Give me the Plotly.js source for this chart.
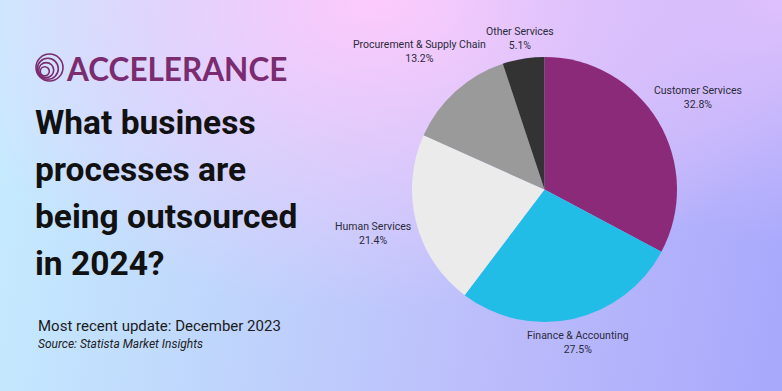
<!DOCTYPE html>
<html>
<head>
<meta charset="utf-8">
<script src="https://cdn.plot.ly/plotly-3.0.1.min.js"></script>
<style>
html,body{margin:0;padding:0;width:782px;height:391px;overflow:hidden;}
body{
  background:
    radial-gradient(ellipse 42% 62% at 100% 0%, rgba(222,192,252,1) 0%, rgba(222,192,252,0) 100%),
    radial-gradient(ellipse 58% 80% at 48% 0%, rgba(253,202,252,1) 0%, rgba(253,202,252,0.55) 45%, rgba(253,202,252,0) 100%),
    linear-gradient(100deg, #c6edff 0%, #bfd6fc 32%, #bcbcfb 65%, #a8a8fc 100%);
}
#chart{width:782px;height:391px;}
</style>
</head>
<body>
<div id="chart"></div>
<script>
// ---- data ----
const categories = ["Customer Services", "Finance & Accounting", "Human Services", "Procurement & Supply Chain", "Other Services"];
const shares = [32.8, 27.5, 21.4, 13.2, 5.1];
const sliceColors = ["#8c2a7a", "#22bde6", "#ebebeb", "#9a9a9a", "#333333"];
const titleLines = ["What business", "processes are", "being outsourced", "in 2024?"];
const brandName = "ACCELERANCE";
const updateNote = "Most recent update: December 2023";
const sourceNote = "Source: Statista Market Insights";

const W = 782, H = 391;
const dom = {x: [412/W, 677/W], y: [1 - 322/H, 1 - 57/H]};

const trace = {
  type: "pie",
  labels: categories,
  values: shares,
  sort: false,
  direction: "clockwise",
  rotation: 0,
  marker: {colors: sliceColors, line: {width: 0}},
  textinfo: "none",
  hoverinfo: "label+percent",
  showlegend: false,
  domain: dom
};

// label placement computed from the slice angles
const total = shares.reduce((a, b) => a + b, 0);
const cx = (dom.x[0] + dom.x[1]) / 2 * W;
const cy = (1 - (dom.y[0] + dom.y[1]) / 2) * H;
const R = Math.min((dom.x[1] - dom.x[0]) * W, (dom.y[1] - dom.y[0]) * H) / 2;
const ctx = document.createElement("canvas").getContext("2d");
ctx.font = "11px Roboto";
const annotations = [];
let cum = 0;
categories.forEach((c, i) => {
  const frac = shares[i] / total;
  const mid = (cum + frac / 2) * 2 * Math.PI;
  cum += frac;
  const pct = (frac * 100).toFixed(1) + "%";
  const hw = Math.max(ctx.measureText(c).width, ctx.measureText(pct).width) / 2;
  const hh = 14;
  const s = Math.sin(mid), co = Math.cos(mid);
  const d = R + 6 + Math.sqrt((hw * s) ** 2 + (hh * co) ** 2);
  annotations.push({
    xref: "paper", yref: "paper",
    x: (cx + d * s) / W, y: 1 - (cy - d * co) / H,
    xanchor: "center", yanchor: "middle",
    text: c + "<br>" + pct, showarrow: false, align: "center",
    font: {family: "Roboto", size: 10.5, color: "#2b2b3b"}
  });
});

// title lines
const lineTop = 122.5, lineGap = 47;
titleLines.forEach((t, i) => {
  annotations.push({
    xref: "paper", yref: "paper", x: 33/W, y: 1 - (lineTop + i * lineGap)/H,
    xanchor: "left", yanchor: "middle", showarrow: false, text: "<b>" + t + "</b>",
    font: {family: "Roboto", size: 33.5, color: "#111111"}
  });
});
annotations.push({
  xref: "paper", yref: "paper", x: 64/W, y: 1 - 69/H, xanchor: "left", yanchor: "middle",
  showarrow: false, text: "<b>" + brandName + "</b>",
  font: {family: "Lato", size: 31.5, color: "#7b2b70"}
});
annotations.push({
  xref: "paper", yref: "paper", x: 36/W, y: 1 - 326/H, xanchor: "left", yanchor: "middle",
  showarrow: false, text: updateNote,
  font: {family: "Roboto", size: 15, color: "#1a1a1a"}
});
annotations.push({
  xref: "paper", yref: "paper", x: 36/W, y: 1 - 344/H, xanchor: "left", yanchor: "middle",
  showarrow: false, text: "<i>" + sourceNote + "</i>",
  font: {family: "Roboto", size: 12, color: "#222222"}
});

// logo rings
const rings = [[49.5, 67.5, 13.5], [47.8, 68.8, 10.5], [46.2, 70.1, 7.5], [44.8, 71.3, 4.5]];
const shapes = rings.map(r => ({
  type: "circle", xref: "paper", yref: "paper",
  x0: (r[0] - r[2]) / W, x1: (r[0] + r[2]) / W,
  y0: 1 - (r[1] + r[2]) / H, y1: 1 - (r[1] - r[2]) / H,
  line: {color: "#7b2b70", width: 1.6}
}));

const layout = {
  width: W, height: H,
  margin: {l: 0, r: 0, t: 0, b: 0},
  paper_bgcolor: "rgba(0,0,0,0)",
  plot_bgcolor: "rgba(0,0,0,0)",
  annotations: annotations,
  shapes: shapes,
  font: {family: "Roboto"}
};

Plotly.newPlot("chart", [trace], layout, {displayModeBar: false, staticPlot: true});
</script>
</body>
</html>
